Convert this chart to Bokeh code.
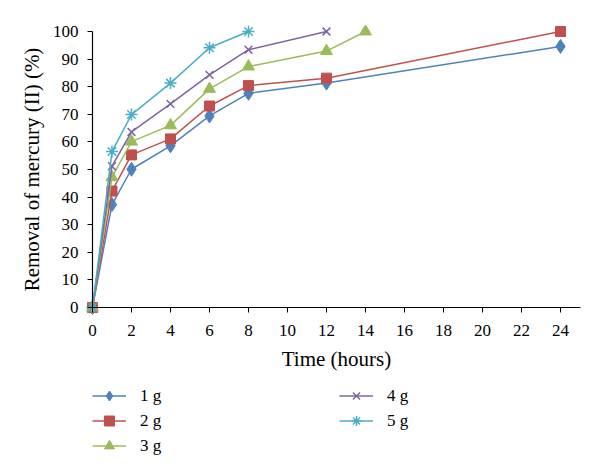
from bokeh.plotting import figure
from bokeh.models import Range1d, FixedTicker, Legend, LegendItem, LinearAxis
from bokeh.embed import file_html
from bokeh.resources import INLINE

# Data (time in hours, removal of mercury (II) in %)
t_1g = [0, 1, 2, 4, 6, 8, 12, 24]
r_1g = [0, 37.3, 50.1, 58.6, 69.4, 77.6, 81.3, 94.6]
t_2g = [0, 1, 2, 4, 6, 8, 12, 24]
r_2g = [0, 42.2, 55.3, 61.1, 73.0, 80.4, 83.1, 100]
t_3g = [0, 1, 2, 4, 6, 8, 12, 14]
r_3g = [0, 47.2, 60.1, 66.0, 79.2, 87.3, 92.9, 100]
t_4g = [0, 1, 2, 4, 6, 8, 12]
r_4g = [0, 51.2, 63.6, 73.8, 84.3, 93.4, 100]
t_5g = [0, 1, 2, 4, 6, 8]
r_5g = [0, 56.5, 69.9, 81.3, 94.1, 100]
series_labels = ["1 g", "2 g", "3 g", "4 g", "5 g"]
x_ticks = [0, 2, 4, 6, 8, 10, 12, 14, 16, 18, 20, 22, 24]
y_ticks = [0, 10, 20, 30, 40, 50, 60, 70, 80, 90, 100]

FONT = "Liberation Serif"

# One large frame holding axes, labels and legend; axes cross at the origin
p = figure(frame_width=579, frame_height=435,
           x_range=Range1d(-4.46, 25.23), y_range=Range1d(-55.4, 102.17),
           x_axis_location=None, y_axis_location=None,
           output_backend="svg", toolbar_location=None,
           min_border_left=5, min_border_right=0, min_border_top=25,
           min_border_bottom=0)
p.grid.visible = False
p.outline_line_color = None

xax = LinearAxis(fixed_location=0, bounds=(0, 25), ticker=FixedTicker(ticks=x_ticks),
                 axis_label="Time (hours)", major_label_standoff=12,
                 axis_label_standoff=8)
yax = LinearAxis(fixed_location=0, bounds=(0, 100), ticker=FixedTicker(ticks=y_ticks),
                 axis_label="Removal of mercury (II) (%)", major_label_standoff=9,
                 axis_label_standoff=6)
for ax in (xax, yax):
    ax.axis_line_color = "black"
    ax.axis_line_width = 1.2
    ax.major_tick_line_color = "black"
    ax.major_tick_in = 0
    ax.major_tick_out = 5
    ax.minor_tick_line_color = None
    ax.major_label_text_font = FONT
    ax.major_label_text_font_size = "17px"
    ax.major_label_text_color = "black"
    ax.axis_label_text_font = FONT
    ax.axis_label_text_font_size = "21px"
    ax.axis_label_text_font_style = "normal"
    ax.axis_label_text_color = "black"
p.add_layout(xax, "below")
p.add_layout(yax, "left")

colors = ["#4F81BD", "#C0504D", "#9BBB59", "#8064A2", "#4BACC6"]
markers = ["diamond", "square", "triangle", "x", "asterisk"]
sizes = [14, 10, 12, 11, 12]
data = [(t_1g, r_1g), (t_2g, r_2g), (t_3g, r_3g), (t_4g, r_4g), (t_5g, r_5g)]

items = []
for (t, r), c, m, s, lab in zip(data, colors, markers, sizes, series_labels):
    ln = p.line(t, r, line_color=c, line_width=1.5)
    if m in ("x", "asterisk"):
        sc = p.scatter(t, r, marker=m, size=s, line_color=c, line_width=1.5)
    else:
        sc = p.scatter(t, r, marker=m, size=s, fill_color=c, line_color=c)
    items.append(LegendItem(label=lab, renderers=[ln, sc]))

legend = Legend(items=items, orientation="vertical", nrows=3,
                location=(87, 2), glyph_width=34, glyph_height=25,
                label_standoff=14, label_width=199, label_height=25,
                spacing=0, padding=1, margin=0, border_line_color=None,
                background_fill_alpha=0,
                label_text_font=FONT, label_text_font_size="17px",
                label_text_color="black")
p.add_layout(legend, "center")

open("out.html", "w").write(file_html(p, INLINE))
